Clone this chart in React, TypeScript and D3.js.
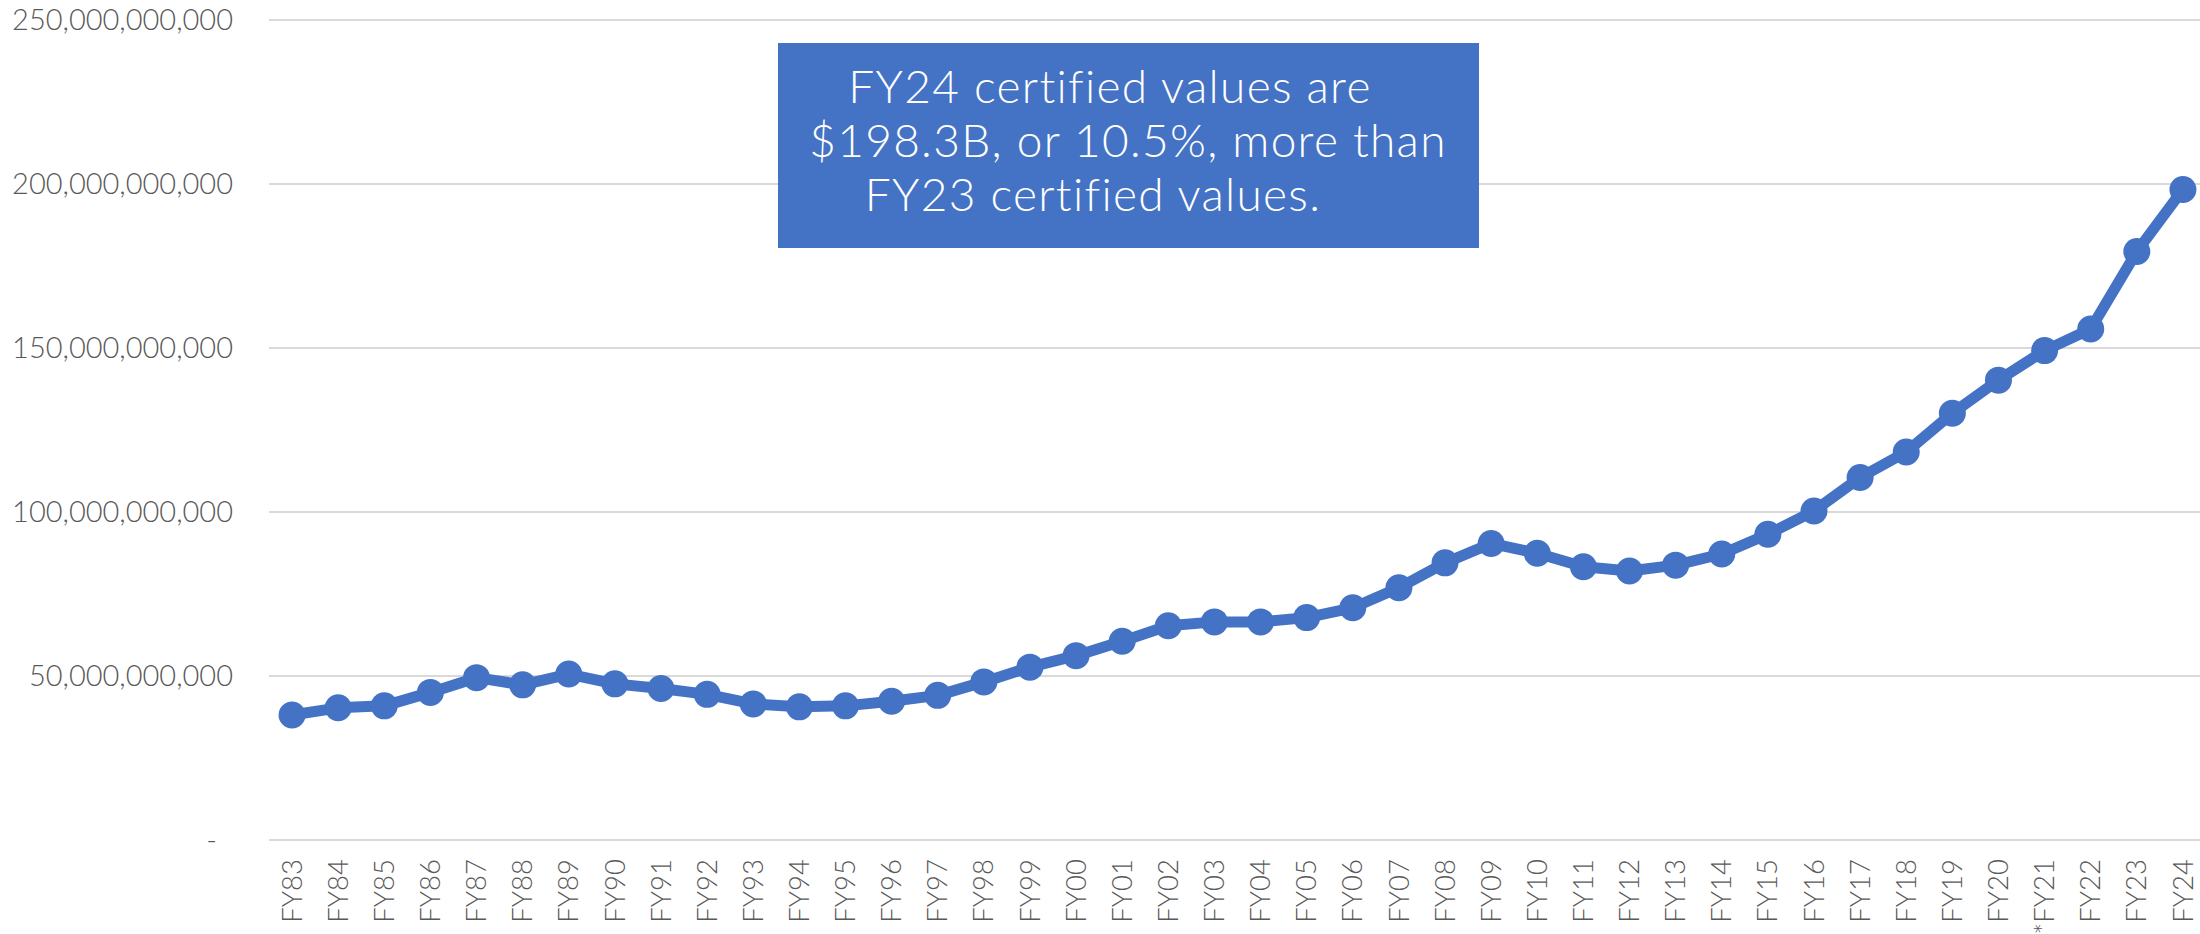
import React, { useEffect, useRef } from "react";
import * as d3 from "d3";

const categories = [
  "FY83","FY84","FY85","FY86","FY87","FY88","FY89","FY90","FY91","FY92",
  "FY93","FY94","FY95","FY96","FY97","FY98","FY99","FY00","FY01","FY02",
  "FY03","FY04","FY05","FY06","FY07","FY08","FY09","FY10","FY11","FY12",
  "FY13","FY14","FY15","FY16","FY17","FY18","FY19","FY20","*FY21","FY22",
  "FY23","FY24",
];

// certified values, in billions of dollars
const valuesB = [
  38.1, 40.3, 40.9, 45.0, 49.5, 47.3, 50.6, 47.6, 46.2, 44.4,
  41.5, 40.6, 40.9, 42.3, 44.1, 48.2, 52.7, 56.2, 60.6, 65.3,
  66.5, 66.5, 67.8, 70.8, 76.9, 84.5, 90.4, 87.4, 83.3, 82.0,
  83.8, 87.2, 93.2, 100.3, 110.5, 118.3, 130.1, 140.2, 149.2, 155.8,
  179.4, 198.3,
];

const yTicks = [0, 50e9, 100e9, 150e9, 200e9, 250e9];

const annotationLines = [
  "FY24 certified values are",
  "$198.3B, or 10.5%, more than",
  "FY23 certified values.",
];

const W = 2200;
const H = 934;
const FONT = "'Century Gothic', 'URW Gothic', Lato, 'Liberation Sans', sans-serif";
const BLUE = "#4472C4";

export default function App() {
  const ref = useRef<SVGSVGElement>(null);

  useEffect(() => {
    document.body.style.margin = "0";
    const svg = d3.select(ref.current);
    svg.selectAll("*").remove();

    const x = d3.scaleBand<string>().domain(categories).range([269, 2206]).padding(0);
    const y = d3.scaleLinear().domain([0, 250e9]).range([840, 20]);

    // gridlines
    svg.append("g")
      .selectAll("line")
      .data(yTicks)
      .join("line")
      .attr("x1", 269)
      .attr("x2", W)
      .attr("y1", (d) => y(d))
      .attr("y2", (d) => y(d))
      .attr("stroke", "#D9D9D9")
      .attr("stroke-width", 2);

    // y labels
    const fmt = d3.format(",");
    svg.append("g")
      .selectAll("text")
      .data(yTicks)
      .join("text")
      .attr("x", (d) => (d === 0 ? 217 : 233))
      .attr("y", (d) => y(d))
      .attr("dy", "0.35em")
      .attr("text-anchor", "end")
      .attr("font-family", FONT)
      .attr("font-weight", 300)
      .attr("font-size", 29)
      .attr("fill", "#595959")
      .text((d) => (d === 0 ? "-" : fmt(d)));

    // x labels
    svg.append("g")
      .selectAll("text")
      .data(categories)
      .join("text")
      .attr("transform", (d) => `translate(${x(d)! + x.bandwidth() / 2},859) rotate(-90)`)
      .attr("dy", "0.35em")
      .attr("text-anchor", "end")
      .attr("font-family", FONT)
      .attr("font-weight", 300)
      .attr("font-size", 27.5)
      .attr("fill", "#595959")
      .text((d) => d);

    const pts = categories.map((c, i) => [x(c)! + x.bandwidth() / 2, y(valuesB[i] * 1e9)] as [number, number]);

    svg.append("path")
      .attr("d", d3.line()(pts)!)
      .attr("fill", "none")
      .attr("stroke", BLUE)
      .attr("stroke-width", 11)
      .attr("stroke-linejoin", "round")
      .attr("stroke-linecap", "round");

    svg.append("g")
      .selectAll("circle")
      .data(pts)
      .join("circle")
      .attr("cx", (d) => d[0])
      .attr("cy", (d) => d[1])
      .attr("r", 13.5)
      .attr("fill", BLUE);

    // annotation box
    const lineCenters = [1110, 1128, 1093];
    const box = svg.append("g");
    box.append("rect")
      .attr("x", 778)
      .attr("y", 43)
      .attr("width", 701)
      .attr("height", 205)
      .attr("fill", BLUE);
    box.selectAll("text")
      .data(annotationLines)
      .join("text")
      .attr("x", (_, i) => lineCenters[i])
      .attr("y", (_, i) => 87 + i * 54)
      .attr("dy", "0.35em")
      .attr("text-anchor", "middle")
      .attr("font-family", FONT)
      .attr("font-weight", 300)
      .attr("font-size", 46)
      .attr("letter-spacing", 1.3)
      .attr("fill", "#ffffff")
      .text((d) => d);
  }, []);

  return (
    <svg
      ref={ref}
      width={W}
      height={H}
      style={{ display: "block", position: "absolute", left: 0, top: 0, background: "#fff" }}
    />
  );
}
